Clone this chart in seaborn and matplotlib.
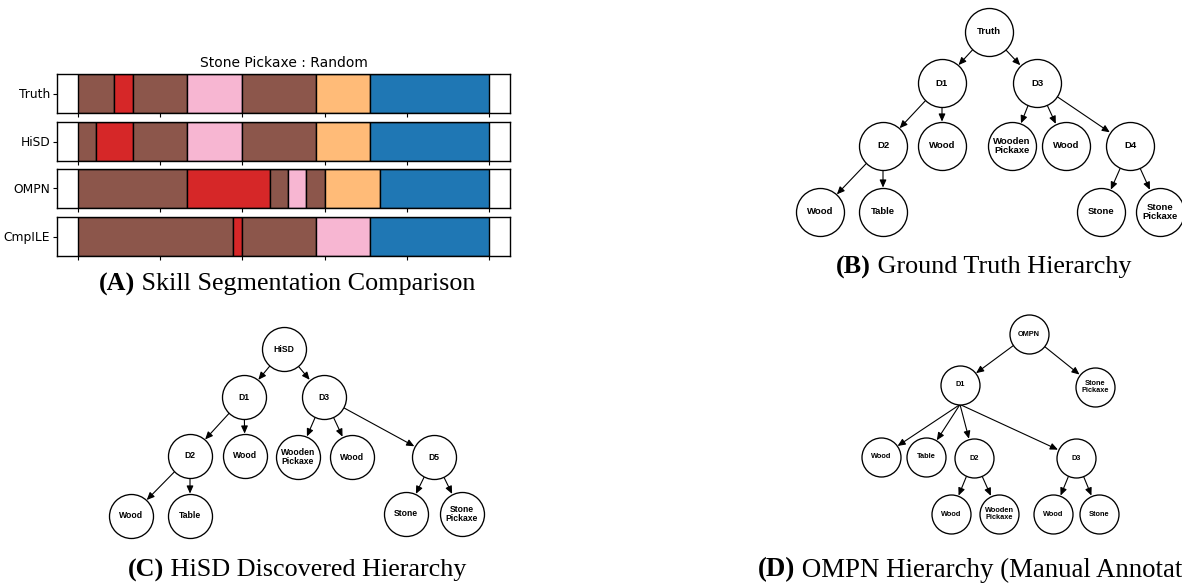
import numpy as np
import matplotlib
matplotlib.use("Agg")
import matplotlib.pyplot as plt
import seaborn as sns

sns.set_style("ticks")
plt.rcParams["font.family"] = ["DejaVu Sans"]
plt.rcParams.update({
    "text.color": "black",
    "axes.labelcolor": "black",
    "xtick.color": "black",
    "ytick.color": "black",
    "axes.edgecolor": "black",
})

# ---------------- skill segmentation data (steps per segment) ----------------
methods = ["Truth", "HiSD", "OMPN", "CmpILE"]
truth_skills = ["Wood", "Table", "Wood", "Wooden Pickaxe", "Wood", "Stone", "Stone Pickaxe"]
truth_steps = [4, 2, 6, 6, 8, 6, 13]
hisd_skills = ["Wood", "Table", "Wood", "Wooden Pickaxe", "Wood", "Stone", "Stone Pickaxe"]
hisd_steps = [2, 4, 6, 6, 8, 6, 13]
ompn_skills = ["Wood", "Table", "Wood", "Wooden Pickaxe", "Wood", "Stone", "Stone Pickaxe"]
ompn_steps = [12, 9, 2, 2, 2, 6, 12]
cmpile_skills = ["Wood", "Table", "Wood", "Wooden Pickaxe", "Stone Pickaxe"]
cmpile_steps = [17, 1, 8, 6, 13]

skill_colors = {
    "Wood": "#8c564b",
    "Table": "#d62728",
    "Wooden Pickaxe": "#f7b6d2",
    "Stone": "#ffbb78",
    "Stone Pickaxe": "#1f77b4",
}

# ---------------- hierarchy trees (node positions in figure pixels) ----------------
tree_b_labels = ["Truth", "D1", "D3", "D2", "Wood", "Wooden\nPickaxe", "Wood", "D4",
                 "Wood", "Table", "Stone", "Stone\nPickaxe"]
tree_b_x = [989, 942, 1037, 883, 942, 1012, 1066, 1130, 820, 883, 1101, 1160]
tree_b_y = [32, 83, 83, 146, 146, 146, 146, 146, 212, 212, 212, 212]
tree_b_parent = [-1, 0, 0, 1, 1, 2, 2, 2, 3, 3, 7, 7]

tree_c_labels = ["HiSD", "D1", "D3", "D2", "Wood", "Wooden\nPickaxe", "Wood", "D5",
                 "Wood", "Table", "Stone", "Stone\nPickaxe"]
tree_c_x = [284, 244, 324, 190, 245, 298, 352, 434, 131, 190, 406, 462]
tree_c_y = [349, 397, 397, 456, 456, 457, 457, 457, 516, 516, 514, 514]
tree_c_parent = [-1, 0, 0, 1, 1, 2, 2, 2, 3, 3, 7, 7]

tree_d_labels = ["OMPN", "D1", "Stone\nPickaxe", "Wood", "Table", "D2", "D3",
                 "Wood", "Wooden\nPickaxe", "Wood", "Stone"]
tree_d_x = [1029, 960, 1095, 881, 926, 974, 1076, 951, 999, 1053, 1099]
tree_d_y = [334, 385, 387, 457, 457, 458, 458, 514, 514, 514, 514]
tree_d_parent = [-1, 0, 0, 1, 1, 1, 1, 5, 5, 6, 6]

W, H, DPI = 1182, 588, 100
fig = plt.figure(figsize=(W / DPI, H / DPI), dpi=DPI)
fig.patch.set_facecolor("white")

# ---------------- panel A: stacked segment bars, one axes per method ----------------
seg_skills = [truth_skills, hisd_skills, ompn_skills, cmpile_skills]
seg_steps = [truth_steps, hisd_steps, ompn_steps, cmpile_steps]
ax_left, ax_right = 57, 510
row_tops = [74, 122, 169, 217]
row_h = 39
for i, (name, skills, steps) in enumerate(zip(methods, seg_skills, seg_steps)):
    rect = [ax_left / W, 1 - (row_tops[i] + row_h) / H, (ax_right - ax_left) / W, row_h / H]
    ax = fig.add_axes(rect)
    steps = np.asarray(steps, dtype=float)
    frac = steps / steps.sum()
    lefts = np.concatenate([[0], np.cumsum(frac)[:-1]])
    ax.barh([0] * len(frac), frac, left=lefts, height=1.0,
            color=[skill_colors[s] for s in skills], edgecolor="black", linewidth=1.0)
    ax.set_xlim(-0.05, 1.05)
    ax.set_ylim(-0.5, 0.5)
    ax.set_xticks(np.arange(0, 1.01, 0.2))
    ax.set_xticklabels([])
    ax.set_yticks([0])
    ax.set_yticklabels([name], fontsize=8.8)
    ax.tick_params(axis="both", length=3, width=0.8, pad=2, colors="black")
    for sp in ax.spines.values():
        sp.set_visible(True)
        sp.set_color("black")
        sp.set_linewidth(1.0)
    if i == 0:
        ax.set_title("Stone Pickaxe : Random", fontsize=10, pad=5, color="black")

# ---------------- overlay axes in pixel units for trees and captions ----------------
ov = fig.add_axes([0, 0, 1, 1])
ov.set_xlim(0, W)
ov.set_ylim(H, 0)
ov.axis("off")
ov.patch.set_alpha(0)

PT = 72.0 / DPI  # points per pixel


def draw_tree(labels, xs, ys, parents, radius, fsize, fan_bottom=()):
    r_pt = radius * PT
    for c, p in enumerate(parents):
        if p < 0:
            continue
        if p in fan_bottom:
            start = (xs[p], ys[p] + radius)
            shrink_a = 0
        else:
            start = (xs[p], ys[p])
            shrink_a = r_pt
        ov.annotate("", xy=(xs[c], ys[c]), xytext=start,
                    arrowprops=dict(arrowstyle="-|>,head_length=0.45,head_width=0.2",
                                    mutation_scale=10, color="black", lw=0.8,
                                    shrinkA=shrink_a, shrinkB=r_pt + 0.3))
    sns.scatterplot(x=xs, y=ys, s=(2 * radius * PT) ** 2, color="white",
                    edgecolor="black", linewidth=0.95, ax=ov, zorder=3, legend=False)
    for lab, x, y in zip(labels, xs, ys):
        ov.text(x, y, lab, ha="center", va="center", fontsize=fsize, fontweight="bold",
                family="Liberation Sans", linespacing=1.1, zorder=4, color="black")


draw_tree(tree_b_labels, tree_b_x, tree_b_y, tree_b_parent, 24, 6.8)
draw_tree(tree_c_labels, tree_c_x, tree_c_y, tree_c_parent, 22, 6.2)
draw_tree(tree_d_labels, tree_d_x, tree_d_y, tree_d_parent, 19.5, 5.3, fan_bottom=(1,))

# ---------------- captions: bold tag followed by regular text ----------------
renderer = fig.canvas.get_renderer()


def caption(tag, text, x, y, align="center", size=18.8):
    t1 = ov.text(0, y, tag, fontsize=size, family="Liberation Serif", fontweight="bold",
                 ha="left", va="center", color="black")
    t2 = ov.text(0, y, " " + text, fontsize=size, family="Liberation Serif",
                 ha="left", va="center", color="black")
    w1 = t1.get_window_extent(renderer).width
    w2 = t2.get_window_extent(renderer).width
    x0 = x - (w1 + w2) / 2 if align == "center" else x
    t1.set_x(x0)
    t2.set_x(x0 + w1)


caption("(A)", "Skill Segmentation Comparison", 287, 284)
caption("(B)", "Ground Truth Hierarchy", 984, 267)
caption("(C)", "HiSD Discovered Hierarchy", 297, 570)
caption("(D)", "OMPN Hierarchy (Manual Annotation)", 758, 570, align="left", size=19.35)

fig.savefig("out.png", dpi=DPI, facecolor="white")
